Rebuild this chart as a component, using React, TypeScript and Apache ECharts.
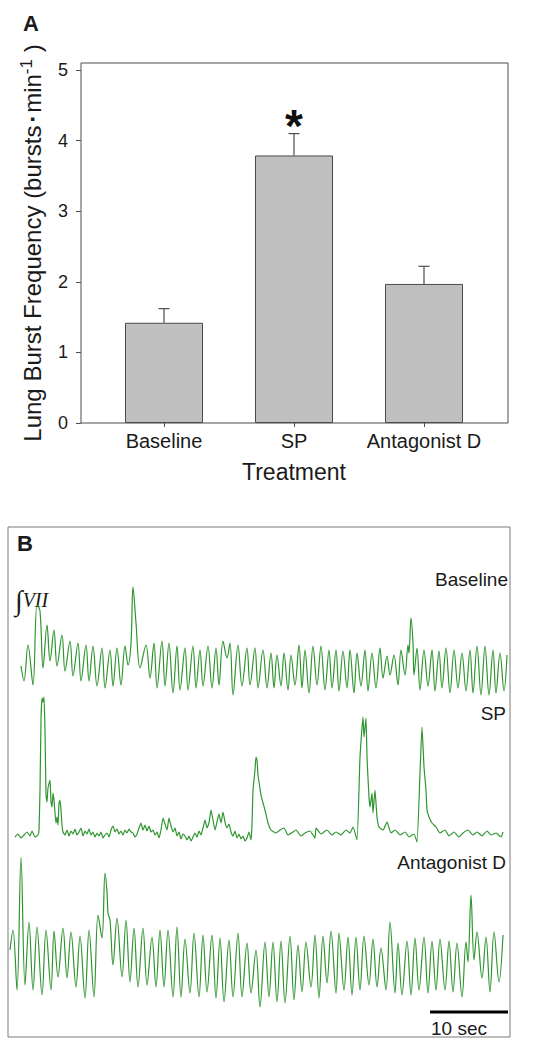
import React, { useEffect, useRef } from 'react';
import * as echarts from 'echarts';

// ---------- Panel A data ----------
const categories = ['Baseline', 'SP', 'Antagonist D'];
const burstMeans = [1.42, 3.79, 1.97];
const burstSEM = [0.2, 0.31, 0.25];
const significance = ['', '*', ''];
const yTicks = [0, 1, 2, 3, 4, 5];

// ---------- Panel B data (time in samples, amplitude in arbitrary units) ----------
const SAMPLES_PER_SEC = 7.8;
const SCALE_BAR_SEC = 10;
const SCALE_BAR_START = 430;
const traceLabels = ['Baseline', 'SP', 'Antagonist D'];

const baselineTrace: number[][] = [
  [21, 37], [24, 22], [28, 58], [33, 18], [37, 98], [40, 92], [43, 35], [47, 78], [50, 42], [54, 73],
  [57, 37], [62, 68], [65, 32], [70, 62], [73, 27], [78, 60], [81, 22], [86, 58], [89, 22], [93, 57],
  [97, 17], [102, 55], [105, 15], [110, 53], [113, 17], [117, 55], [121, 18], [125, 57], [128, 38], [131, 60],
  [133, 116], [136, 80], [140, 35], [146, 58], [150, 25], [154, 60], [157, 15], [162, 62], [165, 17], [169, 60],
  [173, 10], [177, 57], [180, 13], [185, 55], [188, 13], [193, 57], [196, 15], [200, 53], [203, 17], [208, 57],
  [212, 15], [216, 55], [219, 18], [223, 62], [227, 45], [230, 60], [233, 8], [238, 58], [242, 17], [247, 55],
  [250, 18], [255, 55], [258, 15], [263, 53], [267, 15], [271, 50], [274, 15], [277, 48], [281, 17], [284, 50],
  [288, 13], [291, 48], [295, 18], [299, 58], [302, 15], [305, 53], [309, 10], [313, 57], [317, 18], [321, 57],
  [325, 13], [329, 53], [332, 15], [336, 53], [339, 12], [343, 52], [347, 15], [350, 53], [354, 10], [357, 50],
  [361, 17], [365, 53], [368, 12], [372, 50], [376, 15], [380, 55], [383, 25], [387, 47], [390, 28], [394, 48],
  [398, 18], [401, 53], [405, 28], [408, 58], [409, 50], [411, 85], [413, 60], [414, 28], [417, 55], [420, 13],
  [424, 53], [428, 17], [432, 53], [435, 12], [439, 52], [442, 15], [446, 55], [450, 10], [454, 53], [458, 15],
  [462, 50], [466, 12], [470, 53], [473, 10], [477, 57], [481, 8], [485, 57], [489, 8], [493, 53], [496, 10],
  [500, 50], [504, 12], [507, 48],
];

const spTrace: number[][] = [
  [15, 13], [18, 16], [21, 12], [24, 15], [27, 18], [30, 14], [32, 19], [35, 13], [38, 15], [39, 20],
  [40, 60], [41, 130], [42, 152], [43, 148], [44, 153], [45, 120], [46, 55], [47, 48], [48, 62], [50, 70],
  [51, 48], [52, 43], [53, 57], [54, 50], [56, 27], [57, 33], [58, 25], [59, 47], [60, 50], [61, 40],
  [62, 25], [63, 18], [65, 15], [67, 20], [69, 14], [71, 19], [73, 16], [75, 21], [77, 15], [79, 18],
  [81, 22], [83, 14], [85, 19], [87, 16], [89, 21], [91, 15], [93, 18], [95, 13], [97, 17], [99, 14],
  [101, 18], [103, 12], [105, 15], [107, 17], [109, 13], [111, 20], [113, 24], [115, 18], [117, 21], [119, 16],
  [121, 19], [123, 15], [125, 20], [127, 17], [129, 21], [131, 18], [133, 17], [135, 13], [137, 16], [139, 22],
  [141, 27], [143, 20], [145, 25], [147, 19], [149, 24], [151, 18], [153, 20], [155, 15], [157, 18], [159, 12],
  [161, 20], [163, 32], [165, 26], [167, 20], [169, 32], [171, 24], [173, 18], [175, 22], [177, 14], [179, 18],
  [181, 11], [183, 16], [185, 14], [187, 10], [189, 14], [191, 9], [193, 13], [195, 17], [197, 13], [199, 19],
  [201, 15], [203, 22], [205, 30], [207, 22], [209, 27], [211, 40], [213, 30], [215, 20], [217, 28], [219, 36],
  [221, 27], [223, 38], [225, 28], [227, 22], [229, 26], [231, 18], [233, 14], [235, 19], [237, 12], [239, 16],
  [241, 11], [243, 14], [245, 9], [247, 12], [249, 18], [251, 10], [252, 25], [253, 60], [255, 80], [256, 93],
  [257, 90], [258, 75], [259, 68], [261, 55], [263, 47], [265, 40], [268, 27], [271, 20], [276, 17], [280, 20],
  [284, 22], [288, 15], [293, 18], [296, 20], [301, 14], [305, 17], [310, 19], [315, 12], [316, 22], [321, 16],
  [327, 20], [332, 15], [336, 18], [341, 15], [346, 20], [350, 17], [353, 23], [357, 10], [360, 93], [363, 133],
  [364, 113], [366, 132], [367, 93], [369, 53], [370, 43], [372, 57], [373, 37], [375, 60], [377, 33], [379, 23],
  [383, 20], [387, 28], [391, 17], [395, 20], [400, 15], [405, 18], [409, 13], [414, 16], [417, 8], [420, 77],
  [422, 123], [424, 83], [426, 60], [427, 40], [429, 33], [432, 27], [436, 23], [440, 17], [445, 20], [449, 14],
  [454, 18], [459, 13], [463, 17], [468, 20], [473, 15], [477, 18], [482, 14], [487, 19], [491, 15], [496, 17],
  [501, 13], [503, 18],
];

const antagonistTrace: number[][] = [
  [10, 60], [13, 80], [17, 20], [21, 153], [25, 25], [29, 88], [33, 20], [37, 83], [42, 15], [46, 80],
  [51, 20], [54, 79], [58, 33], [63, 82], [67, 32], [71, 78], [76, 23], [80, 74], [85, 12], [89, 80],
  [94, 13], [98, 95], [102, 72], [105, 137], [107, 118], [108, 97], [110, 90], [113, 45], [117, 92], [122, 33],
  [126, 90], [130, 28], [134, 82], [138, 23], [143, 82], [147, 25], [152, 73], [156, 23], [160, 80], [164, 23],
  [168, 80], [173, 13], [177, 83], [181, 13], [185, 71], [190, 17], [194, 77], [199, 13], [203, 75], [207, 18],
  [212, 75], [216, 12], [220, 72], [224, 8], [229, 70], [233, 13], [238, 77], [242, 13], [247, 67], [251, 17],
  [256, 60], [260, 3], [265, 68], [269, 13], [273, 68], [277, 8], [281, 69], [285, 7], [290, 74], [294, 10],
  [298, 65], [302, 18], [306, 68], [311, 23], [315, 75], [319, 12], [323, 74], [327, 27], [331, 79], [336, 17],
  [339, 77], [344, 20], [348, 73], [352, 15], [356, 73], [360, 20], [364, 74], [369, 25], [373, 71], [377, 23],
  [381, 62], [386, 20], [390, 88], [395, 17], [398, 67], [402, 15], [407, 69], [411, 15], [415, 72], [419, 20],
  [424, 73], [428, 17], [432, 69], [436, 20], [440, 71], [445, 20], [449, 69], [453, 18], [457, 67], [462, 13],
  [466, 68], [468, 48], [471, 115], [474, 50], [477, 78], [482, 32], [486, 73], [490, 18], [494, 78], [499, 28],
  [503, 75],
];

const FONT = "'Liberation Sans', Arial, Helvetica, sans-serif";
const TEXT = '#1a1a1a';
const AXIS = '#4d4d4d';
const TRACE = '#2f952f';

export default function App() {
  const ref = useRef<HTMLDivElement>(null);

  useEffect(() => {
    if (!ref.current) return;
    const chart = echarts.init(ref.current, undefined, { renderer: 'svg' });

    const traceSeries = [baselineTrace, spTrace, antagonistTrace].map((d, i) => ({
      type: 'line',
      xAxisIndex: 2 + i,
      yAxisIndex: 2 + i,
      data: d,
      symbol: 'none',
      smooth: i === 1 ? 0.15 : 0.35,
      lineStyle: { color: TRACE, width: 1.2 },
      silent: true,
    }));

    const option: any = {
      animation: false,
      backgroundColor: '#fff',
      grid: [
        { left: 81, right: 34, top: 63, bottom: 627, show: true, borderColor: AXIS, borderWidth: 1 },
        { left: 99, right: 53, top: 63, bottom: 627 },
        { left: 0, width: 542, top: 578, height: 125 },
        { left: 0, width: 542, top: 690, height: 160 },
        { left: 0, width: 542, top: 850, height: 160 },
        { left: 0, width: 542, top: 1007, height: 10 },
      ],
      xAxis: [
        { gridIndex: 0, type: 'value', min: 0, max: 1, show: false },
        {
          gridIndex: 1,
          type: 'category',
          data: categories,
          axisLine: { show: false },
          axisTick: { show: true, alignWithLabel: true, length: 4, lineStyle: { color: AXIS } },
          axisLabel: { interval: 0, fontSize: 20, fontFamily: FONT, color: TEXT, margin: 8 },
          name: 'Treatment',
          nameLocation: 'middle',
          nameGap: 37,
          nameTextStyle: { fontSize: 23, fontFamily: FONT, color: TEXT },
        },
        { gridIndex: 2, type: 'value', min: 0, max: 542, show: false },
        { gridIndex: 3, type: 'value', min: 0, max: 542, show: false },
        { gridIndex: 4, type: 'value', min: 0, max: 542, show: false },
        { gridIndex: 5, type: 'value', min: 0, max: 542, show: false },
      ],
      yAxis: [
        {
          gridIndex: 0,
          type: 'value',
          min: 0,
          max: 5.1,
          axisLine: { show: false },
          splitLine: { show: false },
          axisTick: { show: true, length: 5, customValues: yTicks, lineStyle: { color: AXIS } },
          axisLabel: { customValues: yTicks, fontSize: 18, fontFamily: FONT, color: TEXT, margin: 13 },
          name: '{a|Lung Burst Frequency (bursts}{b| ▪ }{a|min}{s|-1}{a| )}',
          nameLocation: 'middle',
          nameGap: 35,
          nameTextStyle: {
            rich: {
              a: { fontSize: 24, fontFamily: FONT, color: TEXT, lineHeight: 28 },
              b: { fontSize: 14, fontFamily: FONT, color: TEXT, lineHeight: 28 },
              s: { fontSize: 17, fontFamily: FONT, color: TEXT, lineHeight: 17, verticalAlign: 'top' },
            },
          },
        },
        { gridIndex: 1, type: 'value', min: 0, max: 5.1, show: false },
        { gridIndex: 2, type: 'value', min: 0, max: 125, show: false },
        { gridIndex: 3, type: 'value', min: 0, max: 160, show: false },
        { gridIndex: 4, type: 'value', min: 0, max: 160, show: false },
        { gridIndex: 5, type: 'value', min: 0, max: 1, show: false },
      ],
      series: [
        {
          type: 'bar',
          xAxisIndex: 1,
          yAxisIndex: 1,
          data: burstMeans,
          barWidth: 78,
          itemStyle: { color: '#c0c0c0', borderColor: '#4a4a4a', borderWidth: 1 },
          silent: true,
        },
        {
          type: 'custom',
          xAxisIndex: 1,
          yAxisIndex: 1,
          data: categories.map((_, i) => [i, burstMeans[i], burstMeans[i] + burstSEM[i]]),
          renderItem: (params: any, api: any) => {
            const base = api.coord([api.value(0), api.value(1)]);
            const top = api.coord([api.value(0), api.value(2)]);
            const children: any[] = [
              { type: 'line', shape: { x1: base[0], y1: base[1], x2: top[0], y2: top[1] }, style: { stroke: AXIS, lineWidth: 1.2 } },
              { type: 'line', shape: { x1: top[0] - 5.5, y1: top[1], x2: top[0] + 5.5, y2: top[1] }, style: { stroke: AXIS, lineWidth: 1.2 } },
            ];
            const sig = significance[params.dataIndex];
            if (sig) {
              children.push({
                type: 'text',
                x: top[0],
                y: top[1] - 8,
                style: { text: sig, fontSize: 46, fontWeight: 'bold', fontFamily: FONT, fill: '#111', align: 'center', verticalAlign: 'middle' },
              });
            }
            return { type: 'group', children };
          },
          silent: true,
          z: 5,
        },
        ...traceSeries,
        {
          type: 'line',
          xAxisIndex: 5,
          yAxisIndex: 5,
          data: [
            [SCALE_BAR_START, 0.5],
            [SCALE_BAR_START + SCALE_BAR_SEC * SAMPLES_PER_SEC, 0.5],
          ],
          symbol: 'none',
          lineStyle: { color: '#000', width: 3 },
          silent: true,
        },
      ],
      graphic: [
        { type: 'text', left: 23, top: 12, style: { text: 'A', fontSize: 22, fontWeight: 'bold', fontFamily: FONT, fill: TEXT } },
        { type: 'text', left: 17, top: 532, style: { text: 'B', fontSize: 22, fontWeight: 'bold', fontFamily: FONT, fill: TEXT } },
        { type: 'rect', shape: { x: 8, y: 527, width: 502, height: 510 }, style: { fill: 'none', stroke: '#7a7a7a', lineWidth: 1 }, z: 10 },
        { type: 'text', x: 508, y: 579, style: { text: traceLabels[0], fontSize: 19, fontFamily: FONT, fill: TEXT, align: 'right', verticalAlign: 'middle' } },
        { type: 'text', x: 506, y: 713, style: { text: traceLabels[1], fontSize: 19, fontFamily: FONT, fill: TEXT, align: 'right', verticalAlign: 'middle' } },
        { type: 'text', x: 506, y: 862, style: { text: traceLabels[2], fontSize: 19, fontFamily: FONT, fill: TEXT, align: 'right', verticalAlign: 'middle' } },
        {
          type: 'text',
          x: 15,
          y: 600,
          style: {
            text: '{i|∫}{v|VII}',
            verticalAlign: 'middle',
            rich: {
              i: { fontSize: 28, fontFamily: "'Liberation Serif', 'DejaVu Serif', serif", fill: TEXT },
              v: { fontSize: 20, fontStyle: 'italic', fontFamily: "'Liberation Serif', 'DejaVu Serif', serif", fill: TEXT },
            },
          },
        },
        { type: 'text', x: 431, y: 1028, style: { text: '10 sec', fontSize: 19, fontFamily: FONT, fill: TEXT, align: 'left', verticalAlign: 'middle' } },
      ],
    };

    chart.setOption(option);
    return () => chart.dispose();
  }, []);

  return (
    <div style={{ position: 'absolute', left: 0, top: 0, width: 542, height: 1050 }}>
      <div ref={ref} style={{ width: 542, height: 1050 }} />
    </div>
  );
}
